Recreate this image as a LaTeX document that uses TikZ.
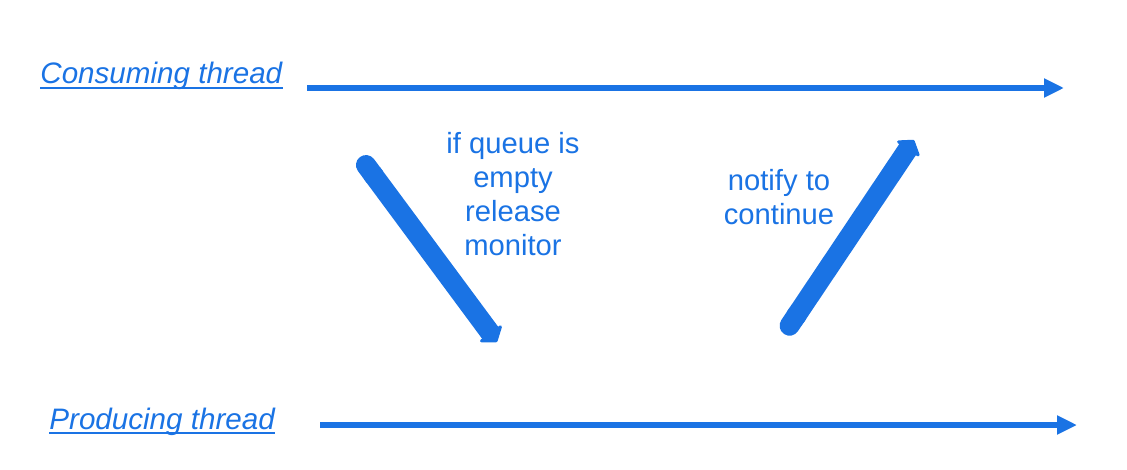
\documentclass[tikz,border=0pt]{standalone}
\usepackage{fontspec}
\setmainfont{Liberation Sans}
\usetikzlibrary{arrows.meta}
\definecolor{threadblue}{RGB}{26,115,228}
\begin{document}
\begin{tikzpicture}[x=0.5pt, y=-0.5pt,
		lbl/.style={text=threadblue, inner sep=0, font=\fontsize{14.8}{17}\selectfont\itshape},
		note/.style={text=threadblue, align=center, font=\fontsize{14.6}{17}\selectfont},
		line/.style={color=threadblue, line width=2.6pt, -{Triangle[length=10pt, width=9pt]}},
		hop/.style={color=threadblue, line width=10pt, {Round Cap[]}-{Triangle[length=6pt, width=16pt, round]}}]
		\useasboundingbox (0,0) rectangle (1127,470);

		\node[lbl, anchor=base west] at (40,84) (cons) {Consuming thread};
		\draw[threadblue, line width=0.8pt] ([yshift=-2pt]cons.base west) -- ([yshift=-2pt]cons.base east);
		\node[lbl, anchor=base west] at (49,429) (prod) {Producing thread};
		\draw[threadblue, line width=0.8pt] ([yshift=-2pt]prod.base west) -- ([yshift=-2pt]prod.base east);

		\coordinate (cstart) at (307,88);
		\coordinate (cend) at (1064,88);
		\coordinate (pstart) at (320,425);
		\coordinate (pend) at (1077,425);
		\path[line] (cstart) edge (cend);
		\path[line] (pstart) edge (pend);

		\coordinate (waitfrom) at (360,157);
		\coordinate (waitto) at (497,342);
		\path[hop] (waitfrom) edge (waitto);
		\node[note] at (513,194) (wait) {if queue is\\empty\\release\\monitor};

		\coordinate (notifyfrom) at (784,334);
		\coordinate (notifyto) at (914,140);
		\path[hop] (notifyfrom) edge (notifyto);
		\node[note] at (779,197) (notify) {notify to\\continue};
	\end{tikzpicture}
\end{document}
